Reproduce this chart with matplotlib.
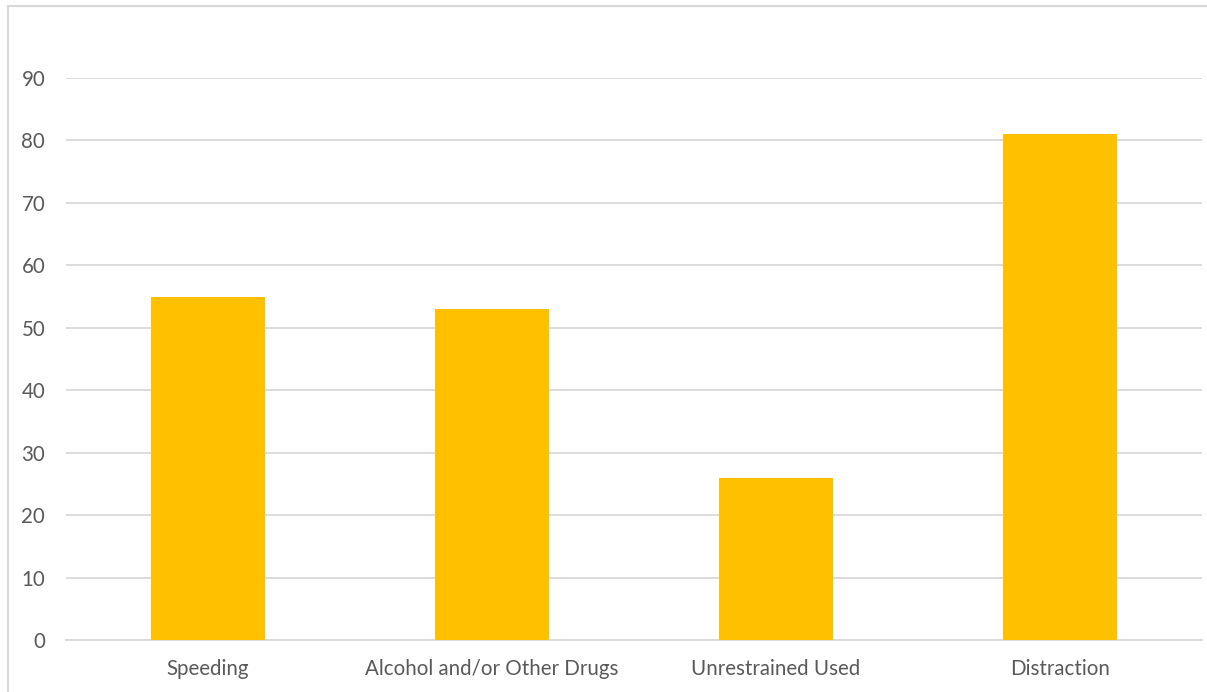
import matplotlib
matplotlib.use("Agg")
import matplotlib.pyplot as plt
from matplotlib.lines import Line2D

categories = ["Speeding", "Alcohol and/or Other Drugs", "Unrestrained Used", "Distraction"]
values = [55, 53, 26, 81]
y_ticks = [0, 10, 20, 30, 40, 50, 60, 70, 80, 90]

bar_color = "#FFC000"
text_color = "#595959"
grid_color = "#D9D9D9"

plt.rcParams["font.family"] = ["Lato", "DejaVu Sans"]

fig = plt.figure(figsize=(12.07, 6.92), dpi=100)
ax = fig.add_axes([66 / 1207, 52 / 692, 1136 / 1207, 562 / 692])

x = range(len(categories))
ax.bar(x, values, width=0.40, color=bar_color, zorder=3)

ax.set_xlim(-0.5, len(categories) - 0.5)
ax.set_ylim(0, 90)
ax.set_yticks(y_ticks)
ax.set_xticks(list(x))
ax.set_xticklabels(categories)

ax.grid(axis="y", color=grid_color, linewidth=1.3, zorder=0)
ax.set_axisbelow(True)
for side in ["top", "right", "left"]:
    ax.spines[side].set_visible(False)
ax.spines["bottom"].set_color(grid_color)
ax.spines["bottom"].set_linewidth(1.3)

ax.tick_params(axis="both", length=0, labelsize=14.8, colors=text_color)
ax.tick_params(axis="y", pad=15)
ax.tick_params(axis="x", pad=14)

# outer chart frame (top and left edges)
fig.add_artist(Line2D([8 / 1207, 8 / 1207], [0, 1 - 6 / 692],
                      transform=fig.transFigure, color=grid_color, linewidth=1.5))
fig.add_artist(Line2D([8 / 1207, 1], [1 - 6 / 692, 1 - 6 / 692],
                      transform=fig.transFigure, color=grid_color, linewidth=1.5))

fig.savefig("out.png", dpi=100)
